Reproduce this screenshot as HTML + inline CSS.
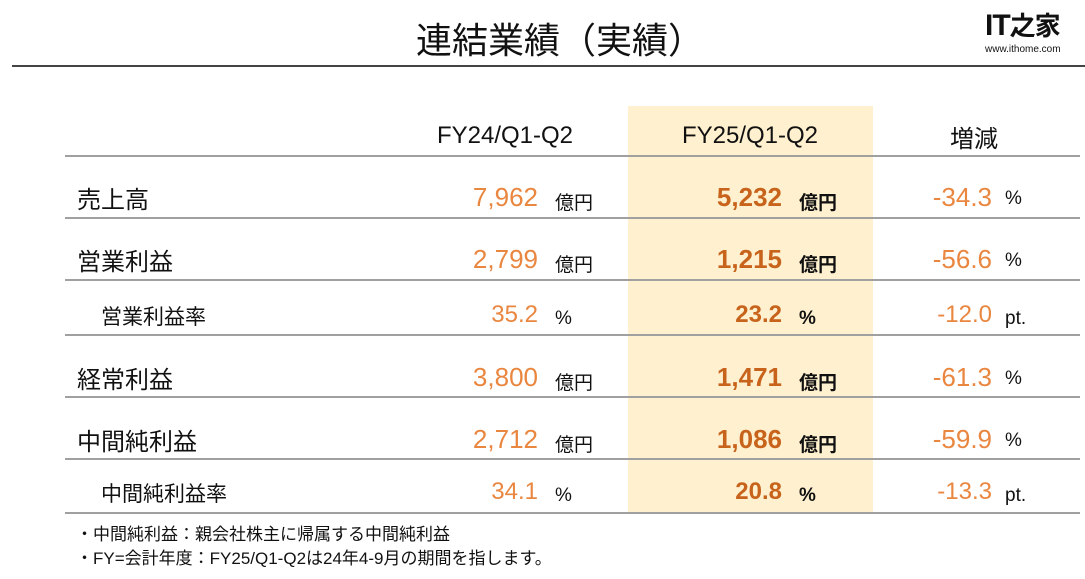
<!DOCTYPE html>
<html><head><meta charset="utf-8"><style>
body{margin:0;width:1085px;height:579px;background:#fff;position:relative;overflow:hidden;font-family:"Liberation Sans","Noto Sans CJK JP",sans-serif;color:#111}
.a{position:absolute;white-space:nowrap}
.hl{position:absolute;left:628px;top:106px;width:245px;height:407px;background:#fff1cf}
.ln{position:absolute;left:65px;width:1015px;height:2px;background:#a0a0a0}
.lab{font-size:24px}
.n1{font-size:26px;color:#e9863f;text-align:right;width:150px}
.n2{font-size:26px;color:#c8631c;font-weight:bold;text-align:right;width:150px}
.u{font-size:19px}
.ub{font-size:19px;font-weight:bold}
.h{font-size:24px;text-align:center;width:200px}
</style></head><body>
<div class="a" style="left:0;width:1120px;text-align:center;top:12px;font-size:36px">連結業績（実績）</div>
<div class="a" style="left:12px;top:65px;width:1073px;height:2px;background:#444"></div>
<div class="a" style="left:985px;top:6px;font-size:30px;font-weight:bold;letter-spacing:-1px">IT<span style="font-size:26px">之家</span></div>
<div class="a" style="left:985px;top:44px;font-size:10px">www.ithome.com</div>
<div class="hl"></div>
<div class="a h" style="left:405px;top:122px">FY24/Q1-Q2</div>
<div class="a h" style="left:650px;top:122px">FY25/Q1-Q2</div>
<div class="a h" style="left:874px;top:119px">増減</div>
<div class="ln" style="top:155px"></div>
<div class="ln" style="top:217px"></div>
<div class="ln" style="top:279px"></div>
<div class="ln" style="top:334px"></div>
<div class="ln" style="top:396px"></div>
<div class="ln" style="top:458px"></div>
<div class="ln" style="top:512px"></div>

<div class="a lab" style="left:77px;top:180px">売上高</div>
<div class="a n1" style="left:388px;top:182px">7,962</div><div class="a u" style="left:555px;top:188px">億円</div>
<div class="a n2" style="left:632px;top:182px">5,232</div><div class="a ub" style="left:799px;top:188px">億円</div>
<div class="a n1" style="left:842px;top:182px">-34.3</div><div class="a u" style="left:1005px;top:188px">%</div>

<div class="a lab" style="left:77px;top:242px">営業利益</div>
<div class="a n1" style="left:388px;top:244px">2,799</div><div class="a u" style="left:555px;top:250px">億円</div>
<div class="a n2" style="left:632px;top:244px">1,215</div><div class="a ub" style="left:799px;top:250px">億円</div>
<div class="a n1" style="left:842px;top:244px">-56.6</div><div class="a u" style="left:1005px;top:250px">%</div>

<div class="a" style="left:101px;top:301px;font-size:21px">営業利益率</div>
<div class="a n1" style="left:388px;top:301px;font-size:24px">35.2</div><div class="a u" style="left:555px;top:308px">%</div>
<div class="a n2" style="left:632px;top:301px;font-size:24px">23.2</div><div class="a ub" style="left:799px;top:308px">%</div>
<div class="a n1" style="left:842px;top:301px;font-size:24px">-12.0</div><div class="a u" style="left:1005px;top:308px">pt.</div>

<div class="a lab" style="left:77px;top:360px">経常利益</div>
<div class="a n1" style="left:388px;top:362px">3,800</div><div class="a u" style="left:555px;top:368px">億円</div>
<div class="a n2" style="left:632px;top:362px">1,471</div><div class="a ub" style="left:799px;top:368px">億円</div>
<div class="a n1" style="left:842px;top:362px">-61.3</div><div class="a u" style="left:1005px;top:368px">%</div>

<div class="a lab" style="left:77px;top:422px">中間純利益</div>
<div class="a n1" style="left:388px;top:424px">2,712</div><div class="a u" style="left:555px;top:430px">億円</div>
<div class="a n2" style="left:632px;top:424px">1,086</div><div class="a ub" style="left:799px;top:430px">億円</div>
<div class="a n1" style="left:842px;top:424px">-59.9</div><div class="a u" style="left:1005px;top:430px">%</div>

<div class="a" style="left:101px;top:478px;font-size:21px">中間純利益率</div>
<div class="a n1" style="left:388px;top:478px;font-size:24px">34.1</div><div class="a u" style="left:555px;top:485px">%</div>
<div class="a n2" style="left:632px;top:478px;font-size:24px">20.8</div><div class="a ub" style="left:799px;top:485px">%</div>
<div class="a n1" style="left:842px;top:478px;font-size:24px">-13.3</div><div class="a u" style="left:1005px;top:485px">pt.</div>

<div class="a" style="left:76px;top:520px;font-size:17px">・中間純利益：親会社株主に帰属する中間純利益</div>
<div class="a" style="left:76px;top:544px;font-size:17px">・FY=会計年度：FY25/Q1-Q2は24年4-9月の期間を指します。</div>
</body></html>
